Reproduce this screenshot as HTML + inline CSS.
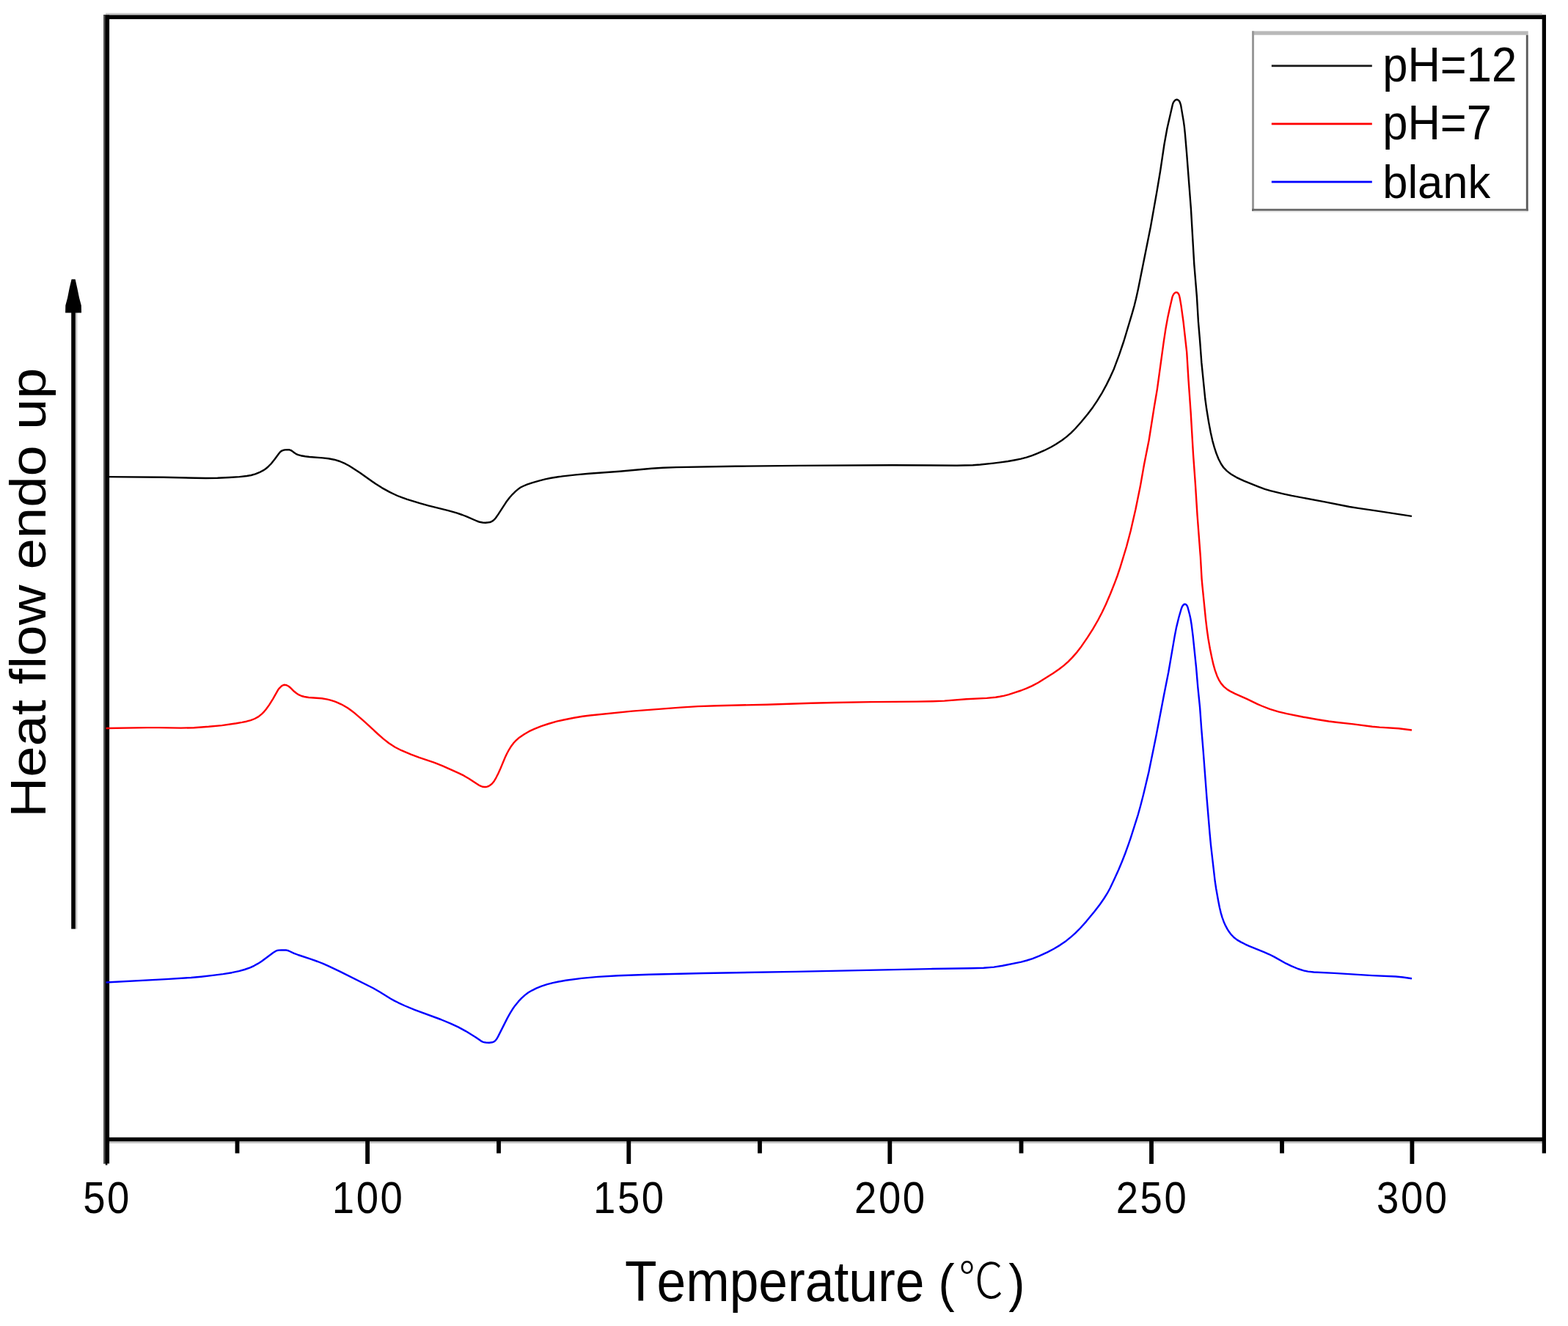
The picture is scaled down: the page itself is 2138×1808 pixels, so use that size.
<!DOCTYPE html>
<html lang="en"><head><meta charset="utf-8"><title>DSC heating curves</title>
<style>
html,body{margin:0;padding:0;background:#fff;}
body{width:2138px;height:1808px;}
svg{display:block;}
text{font-family:"Liberation Sans","Noto Sans CJK SC",sans-serif;fill:#000;font-kerning:none;}
.deg{font-family:"Noto Sans CJK SC","Noto Sans CJK JP","WenQuanYi Zen Hei",sans-serif;font-weight:300;}
</style></head><body>
<svg width="2138" height="1808" viewBox="0 0 2138 1808">
<rect width="2138" height="1808" fill="#fff"/>
<rect x="143.8" y="17.8" width="1959" height="3" fill="#c8c8c8"/>
<rect x="149" y="1556" width="1954" height="3" fill="#c8c8c8"/>
<rect x="141" y="20.5" width="1967" height="5.6" fill="#000"/>
<rect x="141" y="1550.8" width="1967" height="5.4" fill="#000"/>
<rect x="141" y="20.5" width="8.1" height="1566" fill="#000"/>
<rect x="141" y="20.5" width="2.4" height="1566" fill="#555"/>
<rect x="143.8" y="1586" width="2.6" height="2.6" fill="#000"/>
<rect x="2102.7" y="20.5" width="5.3" height="1552" fill="#000"/>
<rect x="498.2" y="1553" width="5.8" height="34" fill="#000"/>
<rect x="854.4" y="1553" width="5.8" height="34" fill="#000"/>
<rect x="1210.4" y="1553" width="5.8" height="34" fill="#000"/>
<rect x="1567.1" y="1553" width="5.8" height="34" fill="#000"/>
<rect x="1922.5" y="1553" width="5.8" height="34" fill="#000"/>
<rect x="320.6" y="1553" width="5.8" height="19.5" fill="#000"/>
<rect x="677.1" y="1553" width="5.8" height="19.5" fill="#000"/>
<rect x="1033.1" y="1553" width="5.8" height="19.5" fill="#000"/>
<rect x="1389.6" y="1553" width="5.8" height="19.5" fill="#000"/>
<rect x="1745.1" y="1553" width="5.8" height="19.5" fill="#000"/>
<path d="M144.6 650.1 L222.6 650.7 L266.6 651.8 L280.6 652.0 L296.6 651.7 L312.6 651.0 L326.6 650.1 L336.5 649.0 L342.4 648.0 L348.1 646.4 L353.6 644.2 L358.9 641.4 L362.2 639.2 L365.3 636.7 L369.5 632.5 L374.5 626.3 L380.4 618.2 L381.7 616.7 L383.1 615.4 L384.8 614.4 L386.6 613.8 L388.6 613.4 L392.6 613.1 L394.5 613.3 L396.4 613.9 L398.1 614.9 L401.2 617.3 L404.6 619.4 L406.4 620.1 L410.2 621.2 L416.1 622.3 L422.0 623.0 L440.0 624.4 L447.9 625.2 L455.7 626.7 L463.3 629.0 L470.6 632.2 L475.9 635.0 L481.0 638.2 L491.0 644.8 L512.3 659.8 L520.7 665.1 L531.2 670.9 L536.6 673.5 L542.0 676.0 L547.6 678.2 L555.2 680.8 L572.4 686.2 L583.9 689.4 L611.1 696.1 L622.6 699.4 L630.2 702.0 L635.8 704.1 L650.4 710.5 L654.1 711.8 L658.1 712.5 L662.1 712.7 L666.0 712.3 L668.0 712.0 L669.9 711.3 L671.6 710.4 L673.1 709.2 L674.6 707.8 L675.9 706.3 L679.3 701.4 L690.2 684.6 L695.0 678.3 L699.0 673.8 L703.3 669.7 L706.3 667.1 L709.5 664.8 L713.0 663.0 L718.5 660.7 L726.1 658.1 L735.7 655.3 L743.4 653.4 L751.3 651.8 L759.2 650.5 L767.1 649.4 L785.0 647.4 L802.9 645.7 L844.8 642.8 L888.6 638.8 L904.6 637.8 L922.6 637.1 L1002.6 635.8 L1090.6 634.9 L1216.6 634.3 L1304.6 634.7 L1326.6 634.3 L1336.6 633.5 L1354.5 631.6 L1364.4 630.4 L1374.3 629.0 L1384.1 627.2 L1392.0 625.6 L1399.7 623.6 L1407.3 621.1 L1414.8 618.2 L1423.9 614.2 L1432.8 609.7 L1439.7 605.7 L1448.1 600.2 L1454.5 595.4 L1460.5 590.2 L1466.1 584.5 L1474.1 575.5 L1483.0 564.7 L1490.2 555.2 L1495.8 546.9 L1502.1 536.7 L1508.8 524.4 L1514.1 513.6 L1519.0 502.7 L1526.0 483.9 L1532.4 465.0 L1543.9 426.7 L1546.6 417.0 L1549.0 407.3 L1552.0 393.7 L1568.9 309.3 L1577.6 260.1 L1582.2 232.5 L1587.5 196.8 L1591.4 175.2 L1599.0 142.1 L1599.7 140.2 L1600.7 138.5 L1601.9 137.0 L1603.4 136.0 L1605.1 135.8 L1606.7 136.6 L1608.0 137.9 L1608.9 139.6 L1610.1 143.4 L1613.8 165.1 L1614.9 173.1 L1615.9 183.0 L1618.1 208.9 L1623.9 284.7 L1628.3 360.6 L1631.9 404.4 L1633.9 438.4 L1636.1 464.3 L1638.3 494.2 L1643.3 544.0 L1645.2 557.8 L1648.1 575.6 L1650.7 589.4 L1653.3 601.1 L1656.0 610.7 L1658.5 618.3 L1661.5 625.7 L1665.1 632.8 L1668.5 637.7 L1672.6 641.9 L1675.7 644.4 L1678.9 646.7 L1685.8 650.8 L1691.1 653.4 L1696.6 655.9 L1715.2 663.3 L1724.5 666.8 L1732.2 669.1 L1749.7 673.3 L1761.4 675.9 L1806.6 684.4 L1840.0 691.0 L1851.8 692.9 L1877.6 696.6 L1925.0 703.9" fill="none" stroke="#000" stroke-width="2.4" stroke-linejoin="round"/>
<path d="M144.6 993.0 L200.6 992.1 L216.6 992.1 L246.6 992.6 L264.6 992.2 L284.5 990.8 L302.5 989.1 L322.3 986.3 L330.1 984.9 L336.0 983.7 L341.8 982.1 L347.3 980.0 L352.5 977.1 L357.1 973.4 L359.9 970.6 L362.5 967.5 L367.1 961.1 L372.4 952.6 L379.3 940.4 L380.5 938.8 L383.3 936.0 L384.9 934.8 L386.6 934.0 L388.5 933.8 L390.4 934.2 L392.2 935.0 L393.9 936.0 L395.4 937.2 L401.1 942.8 L404.2 945.3 L407.6 947.4 L411.2 949.0 L415.0 950.0 L420.9 951.0 L438.8 952.3 L446.6 953.6 L450.5 954.6 L456.2 956.4 L459.9 957.8 L465.3 960.3 L468.9 962.2 L474.0 965.3 L478.9 968.8 L483.6 972.4 L495.8 982.8 L514.9 1000.5 L522.4 1007.1 L530.2 1013.2 L535.2 1016.6 L538.6 1018.7 L547.4 1023.2 L560.3 1028.7 L571.6 1032.9 L592.4 1039.8 L603.6 1044.3 L625.4 1054.2 L632.6 1057.7 L639.5 1061.7 L652.9 1070.5 L654.6 1071.4 L656.4 1072.2 L658.3 1072.8 L660.3 1073.0 L662.3 1073.0 L664.2 1072.6 L666.1 1072.0 L667.8 1071.0 L670.9 1068.6 L673.5 1065.5 L676.5 1060.3 L679.2 1055.0 L681.7 1049.6 L688.6 1033.0 L691.2 1027.5 L694.0 1022.3 L697.2 1017.2 L700.8 1012.5 L703.6 1009.6 L708.0 1005.7 L714.6 1001.2 L721.5 997.2 L728.7 993.8 L738.0 990.1 L747.5 987.0 L759.0 983.7 L768.8 981.5 L782.5 978.8 L794.3 976.8 L804.3 975.5 L862.0 969.6 L927.8 964.6 L951.7 963.1 L977.7 962.2 L1045.7 960.7 L1105.7 958.8 L1137.7 958.0 L1187.7 957.1 L1249.7 956.6 L1271.7 956.2 L1287.7 955.6 L1317.6 953.3 L1345.5 951.9 L1357.5 950.8 L1363.4 949.8 L1369.3 948.6 L1375.1 947.1 L1382.7 944.7 L1392.2 941.5 L1399.6 938.7 L1406.9 935.4 L1415.7 930.7 L1436.0 917.9 L1444.3 912.3 L1450.6 907.4 L1456.6 902.1 L1462.2 896.4 L1467.5 890.4 L1474.8 880.9 L1482.7 869.4 L1490.2 857.6 L1497.2 845.5 L1502.8 834.8 L1507.9 824.0 L1514.2 809.3 L1520.1 794.4 L1523.6 785.0 L1527.4 773.7 L1536.1 745.0 L1541.7 723.7 L1548.4 694.4 L1554.8 663.1 L1560.0 633.5 L1566.6 600.2 L1573.8 554.7 L1577.8 531.1 L1586.8 465.7 L1589.5 447.9 L1592.0 434.1 L1594.9 420.4 L1598.5 404.9 L1599.3 403.0 L1600.2 401.3 L1601.5 399.8 L1603.0 398.8 L1604.6 398.6 L1606.1 399.5 L1607.1 401.0 L1607.9 402.8 L1608.8 406.7 L1610.5 416.6 L1613.5 438.4 L1618.2 480.1 L1620.5 518.0 L1623.6 561.9 L1627.0 619.8 L1630.0 661.7 L1632.5 701.7 L1636.9 759.5 L1638.6 789.5 L1639.5 799.4 L1644.1 845.2 L1645.8 859.1 L1647.5 871.0 L1649.9 884.8 L1652.3 896.5 L1654.5 906.2 L1656.7 913.9 L1659.4 921.4 L1661.9 926.8 L1665.0 931.9 L1668.9 936.4 L1673.5 940.1 L1678.6 943.2 L1684.0 945.8 L1700.4 953.1 L1714.8 960.1 L1720.3 962.5 L1731.5 966.8 L1743.0 970.3 L1754.6 973.1 L1776.2 977.5 L1795.9 981.0 L1811.7 983.5 L1821.6 984.8 L1845.4 987.4 L1871.2 990.7 L1881.2 991.6 L1907.1 993.3 L1925.0 995.5" fill="none" stroke="#f00" stroke-width="2.4" stroke-linejoin="round"/>
<path d="M144.6 1339.5 L226.5 1335.1 L260.5 1333.0 L274.4 1331.7 L290.3 1329.9 L304.2 1328.1 L316.1 1326.2 L325.8 1324.1 L333.5 1322.0 L341.0 1319.3 L346.5 1316.8 L351.7 1313.9 L356.7 1310.7 L372.8 1298.8 L376.2 1296.7 L378.0 1296.0 L380.0 1295.6 L383.9 1295.4 L389.9 1295.5 L391.9 1295.9 L393.7 1296.5 L400.9 1299.8 L406.5 1302.0 L423.5 1307.6 L433.0 1311.0 L440.4 1313.9 L447.7 1317.2 L464.0 1324.9 L508.7 1347.3 L517.4 1352.2 L532.7 1361.7 L537.9 1364.6 L543.3 1367.3 L552.4 1371.5 L565.3 1376.8 L601.0 1390.0 L613.9 1395.3 L624.8 1400.4 L635.3 1406.1 L648.9 1414.5 L655.5 1419.1 L657.2 1420.1 L659.1 1420.8 L661.0 1421.3 L663.0 1421.6 L667.0 1421.7 L670.9 1421.3 L672.8 1420.7 L674.5 1419.7 L675.9 1418.4 L677.1 1416.8 L679.1 1413.4 L691.7 1388.4 L695.6 1381.4 L698.7 1376.3 L702.1 1371.4 L707.2 1365.2 L711.3 1360.9 L715.7 1356.9 L720.5 1353.3 L725.7 1350.3 L731.0 1347.7 L738.4 1344.7 L746.0 1342.2 L753.8 1340.1 L761.6 1338.5 L771.4 1336.8 L793.2 1333.9 L815.2 1331.9 L843.1 1330.3 L885.1 1328.7 L959.1 1327.0 L1085.2 1324.9 L1267.2 1321.1 L1323.2 1320.2 L1341.2 1319.7 L1355.2 1318.6 L1367.0 1316.7 L1392.5 1311.6 L1400.3 1309.5 L1407.9 1307.1 L1417.2 1303.4 L1428.1 1298.4 L1436.9 1293.8 L1445.5 1288.6 L1453.7 1282.9 L1459.9 1277.9 L1465.9 1272.6 L1473.0 1265.5 L1481.0 1256.6 L1492.4 1242.7 L1499.7 1233.2 L1505.4 1225.0 L1509.7 1218.2 L1513.5 1211.2 L1519.5 1198.6 L1525.3 1185.8 L1529.9 1174.7 L1534.3 1163.5 L1538.4 1152.2 L1541.6 1142.8 L1551.9 1110.3 L1555.1 1098.8 L1559.1 1083.3 L1566.5 1052.1 L1576.5 1003.1 L1587.0 948.1 L1593.2 916.7 L1601.7 867.4 L1604.0 855.6 L1607.3 842.0 L1610.6 830.5 L1611.3 828.6 L1612.1 826.8 L1613.2 825.2 L1614.5 824.0 L1616.1 823.7 L1617.5 824.5 L1618.6 826.0 L1619.4 827.8 L1622.0 837.5 L1623.3 843.3 L1624.6 851.2 L1626.6 867.1 L1631.1 910.8 L1633.3 936.8 L1636.1 964.6 L1638.1 992.6 L1640.7 1024.5 L1645.5 1088.3 L1649.5 1136.2 L1651.0 1152.1 L1656.7 1201.8 L1658.2 1211.7 L1661.0 1227.5 L1662.9 1237.3 L1664.8 1245.1 L1666.5 1250.8 L1668.5 1256.4 L1670.9 1261.9 L1673.7 1267.1 L1675.9 1270.5 L1678.3 1273.7 L1682.3 1278.0 L1687.0 1281.6 L1692.2 1284.6 L1697.5 1287.3 L1703.0 1289.8 L1723.4 1298.1 L1730.7 1301.3 L1737.8 1304.9 L1753.5 1313.7 L1760.7 1317.2 L1769.9 1321.0 L1777.5 1323.4 L1783.4 1324.6 L1791.3 1325.5 L1819.3 1326.9 L1871.2 1330.1 L1903.2 1331.5 L1913.1 1332.5 L1925.0 1334.2" fill="none" stroke="#00f" stroke-width="2.4" stroke-linejoin="round"/>
<text transform="translate(146.0 1653.8) scale(0.94 1.065)" font-size="58" letter-spacing="2.7" text-anchor="middle">50</text>
<text transform="translate(502.1 1653.8) scale(0.94 1.065)" font-size="58" letter-spacing="2.7" text-anchor="middle">100</text>
<text transform="translate(858.3 1653.8) scale(0.94 1.065)" font-size="58" letter-spacing="2.7" text-anchor="middle">150</text>
<text transform="translate(1214.3 1653.8) scale(0.94 1.065)" font-size="58" letter-spacing="2.7" text-anchor="middle">200</text>
<text transform="translate(1571.0 1653.8) scale(0.94 1.065)" font-size="58" letter-spacing="2.7" text-anchor="middle">250</text>
<text transform="translate(1926.4 1653.8) scale(0.94 1.065)" font-size="58" letter-spacing="2.7" text-anchor="middle">300</text>
<text transform="translate(852 1773.6) scale(0.991 1.08)" font-size="72">Temperature <tspan font-size="67" dx="-0.7">(</tspan><tspan class="deg" font-size="62" dx="5.5" dy="-3.5">℃</tspan><tspan font-size="67" dx="6.8" dy="3.5">)</tspan></text>
<text transform="translate(61.6 1114.8) rotate(-90) scale(1.057 0.96)" font-size="72">Heat flow endo up</text>
<rect x="97.2" y="420" width="5.7" height="846.6" fill="#000"/>
<rect x="102.9" y="426" width="2.4" height="840.6" fill="#c6c6c6"/>
<path d="M97.6 380.7 L102.6 380.7 L105.3 392.7 L108 405.9 L110.8 416.5 L111 426.4 L89.1 426.4 L89.3 416.5 L92.1 405.9 L94.7 392.7 Z" fill="#000"/>
<rect x="1707" y="42.4" width="376.7" height="245.3" fill="#fff"/>
<rect x="1707" y="42.4" width="376.7" height="5.3" fill="#b9b9b9"/>
<rect x="1707" y="42.4" width="3" height="245.3" fill="#999"/>
<rect x="2080.8" y="47.7" width="2.9" height="240" fill="#5a5a5a"/>
<rect x="1707" y="284.7" width="376.7" height="3" fill="#666"/>
<rect x="1709" y="287.7" width="374.7" height="2" fill="#eee"/>
<rect x="1733.8" y="88.4" width="137" height="2.8" fill="#1a1a1a"/>
<rect x="1733.8" y="167.5" width="137" height="2.8" fill="#f00"/>
<rect x="1733.8" y="246.6" width="137" height="2.8" fill="#00f"/>
<text transform="translate(1885.2 110.6) scale(1.0 1.08)" font-size="61.5">pH=12</text>
<text transform="translate(1885.2 190.1) scale(1.0 1.08)" font-size="61.5">pH=7</text>
<text transform="translate(1885.2 270.1) scale(1.0 1.03)" font-size="61.5">blank</text>
</svg></body></html>
